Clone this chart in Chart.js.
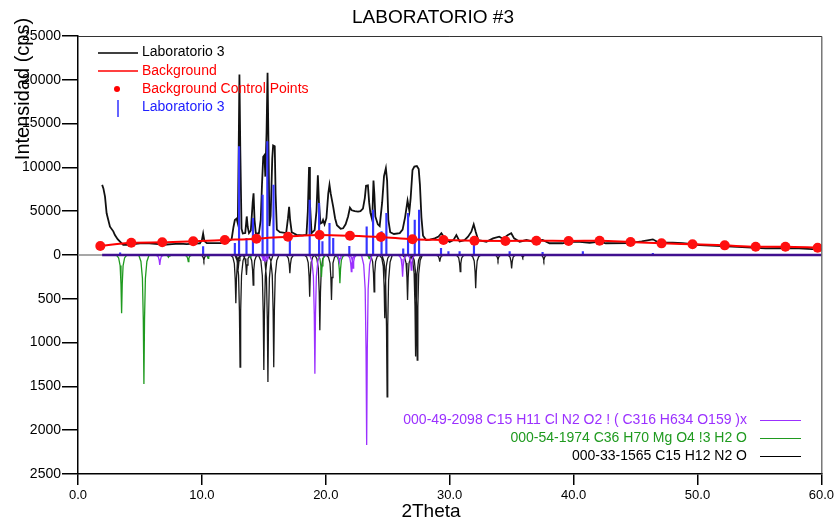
<!DOCTYPE html>
<html>
<head>
<meta charset="utf-8">
<script src="https://cdn.jsdelivr.net/npm/chart.js@4.4.1/dist/chart.umd.min.js"></script>
<style>
  html, body { margin: 0; padding: 0; background: #fff; }
  #wrap { width: 837px; height: 522px; }
</style>
</head>
<body>
<div id="wrap"><canvas id="xrd" width="837" height="522"></canvas></div>
<script>
// Patrón medido (2Theta, cps)
const theta2 = [1.95, 2.05, 2.18, 2.31, 2.58, 2.85, 2.98, 3.2, 3.39, 3.65, 4.0, 4.5, 5.0, 5.5, 6.0, 6.5, 7.15, 7.6, 8.2, 8.77,
  9.3, 9.84, 10.0, 10.1, 10.2, 10.4, 11.0, 11.5, 12.0, 12.4, 12.55, 12.66, 12.8, 12.9, 12.97, 13.03, 13.1, 13.2, 13.3, 13.5,
  13.62, 13.7, 13.8, 13.95, 14.1, 14.17, 14.25, 14.35, 14.6, 14.75, 14.85, 14.95, 15.05, 15.12, 15.22, 15.3, 15.38, 15.45, 15.55, 15.68,
  15.75, 15.88, 15.95, 16.05, 16.3, 16.8, 16.95, 17.04, 17.12, 17.25, 17.64, 18.1, 18.44, 18.55, 18.65, 18.72, 18.85, 19.1, 19.25, 19.36,
  19.45, 19.57, 19.7, 19.78, 19.9, 20.05, 20.2, 20.3, 20.4, 20.6, 20.75, 20.9, 21.2, 21.4, 21.6, 21.8, 21.95, 22.1, 22.34, 22.6,
  22.8, 23.0, 23.15, 23.25, 23.4, 23.5, 23.6, 23.75, 23.85, 23.92, 24.0, 24.2, 24.35, 24.55, 24.7, 24.85, 24.95, 25.05, 25.2, 25.5,
  25.97, 26.2, 26.4, 26.6, 26.75, 26.85, 27.0, 27.15, 27.35, 27.5, 27.6, 27.72, 27.85, 28.1, 28.4, 28.8, 29.1, 29.33, 29.6, 30.0,
  30.3, 30.54, 30.8, 31.2, 31.48, 31.75, 31.94, 32.1, 32.3, 32.96, 33.5, 34.0, 34.3, 34.7, 34.97, 35.2, 35.65, 36.2, 36.7, 37.5,
  38.06, 39.1, 39.7, 40.5, 41.3, 42.1, 42.6, 44.5, 45.5, 46.4, 46.9, 48.0, 48.8, 50.2, 51.5, 52.8, 54.0, 55.5, 57.0, 58.2,
  59.6, 60.0];
const counts = [8000, 7600, 6660, 4760, 3230, 2700, 2280, 1800, 1520, 1150, 1150, 1250, 1340, 1350, 1300, 1250, 1200, 1250, 1300, 1250,
  1300, 1340, 1700, 2450, 1600, 1350, 1350, 1350, 1420, 1800, 3200, 4000, 4150, 3600, 12000, 20600, 12000, 3000, 2450, 2500,
  4400, 3200, 2500, 2800, 6000, 7050, 4000, 2500, 2450, 4000, 8000, 11200, 11400, 8950, 14000, 20800, 12000, 3300, 4500, 11000,
  12500, 12400, 7000, 2900, 2600, 2500, 4200, 5500, 4000, 2600, 2300, 2250, 2300, 5000, 10050, 6000, 2500, 2850, 5000, 9100,
  6000, 3600, 3700, 4000, 3500, 4200, 7000, 8000, 7000, 5500, 4200, 3400, 3000, 3050, 3500, 4400, 5400, 5100, 5000, 4950,
  5000, 5300, 6500, 7900, 7950, 6000, 4800, 4000, 8500, 7000, 4400, 3500, 3300, 6000, 9000, 9900, 8500, 4000, 2600, 2400,
  2500, 2900, 4300, 6200, 5000, 6500, 9700, 10100, 10150, 9800, 8000, 4300, 2200, 1700, 1750, 1900, 2100, 2480, 1900, 1500,
  1700, 2280, 1550, 1700, 2090, 2660, 3500, 2660, 1710, 1520, 1900, 2090, 1850, 2280, 2480, 1900, 1520, 1710, 1520, 1710,
  1340, 1340, 1520, 1500, 1400, 1520, 1340, 1350, 1550, 1790, 1400, 1400, 1340, 1140, 1050, 950, 870, 760, 800, 760,
  650, 640];

// Puntos de control del fondo
const bgTheta = [1.8, 4.3, 6.8, 9.3, 11.85, 14.4, 16.95, 19.5, 21.95, 24.45, 27.0, 29.5, 32.0, 34.5, 37.0, 39.6, 42.1, 44.6, 47.1, 49.6, 52.2, 54.7, 57.1, 59.7];
const bgCounts = [1030, 1400, 1450, 1560, 1710, 1860, 2090, 2280, 2200, 2050, 1790, 1710, 1630, 1600, 1630, 1600, 1630, 1480, 1330, 1220, 1100, 950, 950, 830];

// Lista de picos (barras azules)
const stickTheta = [3.4, 10.1, 12.66, 13.0, 13.6, 14.12, 14.9, 15.28, 15.78, 17.1, 18.7, 19.46, 19.73, 20.3, 20.6, 21.9,
  23.3, 23.82, 24.5, 24.89, 26.25, 26.64, 27.18, 27.53, 29.3, 29.9, 30.8, 31.96, 34.84, 37.5, 40.75, 46.4];
const stickCounts = [250, 950, 1340, 12370, 1900, 4190, 6850, 12940, 7990, 2480, 6280, 5900, 1520, 3620, 1900, 1000,
  3230, 5140, 2660, 4760, 700, 4760, 4000, 5140, 760, 380, 380, 1400, 380, 300, 380, 200];

// Patrones de referencia (escala inferior 0-2500)
const ref1565Theta = [10.16, 12.74, 12.95, 13.08, 13.6, 14.14, 15.0, 15.33, 15.8, 17.1, 18.7, 19.52, 20.46, 23.9, 24.76, 24.95,
  26.6, 27.25, 27.38, 29.2, 30.85, 32.1, 33.9, 35.0, 35.9, 37.6];
const ref1565Int = [60, 552, 130, 1280, 228, 343, 1313, 1450, 1280, 209, 476, 860, 514, 420, 723, 1620,
  514, 1160, 1200, 76, 190, 380, 57, 152, 30, 60];
const ref1974Theta = [3.52, 5.32, 7.3, 8.9, 10.5, 13.9, 19.65, 21.14, 23.5];
const ref1974Int = [666, 1473, 25, 76, 38, 25, 250, 323, 40];
const ref2098Theta = [6.6, 14.95, 15.1, 15.3, 19.12, 21.1, 22.06, 22.2, 23.3, 26.2, 26.9];
const ref2098Int = [114, 60, 70, 50, 1355, 80, 190, 150, 2170, 247, 171];

const xTickValues = [0, 10, 20, 30, 40, 50, 60];
const yTickValues = [-25000, -20000, -15000, -10000, -5000, 0, 5000, 10000, 15000, 20000, 25000];

const REF_SCALE = 10; // la mitad inferior va 10x ampliada
const PEAK_SHAPE = [[-0.42, 0], [-0.24, 0.05], [-0.12, 0.18], [-0.05, 0.5], [0, 1],
  [0.05, 0.5], [0.12, 0.18], [0.24, 0.05], [0.42, 0]];

const zip = (xs, ys) => xs.map((x, i) => ({ x: x, y: ys[i] }));
function refProfile(xs, hs) {
  const pts = [];
  xs.forEach((x, i) => {
    const h = -hs[i] * REF_SCALE;
    PEAK_SHAPE.forEach(([dx, f]) => pts.push({ x: x + dx, y: h * f }));
  });
  return pts;
}

const FONT = "'Liberation Sans', Arial, sans-serif";
Chart.defaults.font.family = FONT;

// Textos, leyendas y marco
const decor = {
  id: 'decor',
  beforeDatasetsDraw(chart) {
    const { ctx, chartArea: a, scales } = chart;
    const y0 = scales.y.getPixelForValue(0);
    ctx.save();
    ctx.strokeStyle = '#8a8a8a';
    ctx.lineWidth = 1.5;
    ctx.beginPath();
    ctx.moveTo(a.left, y0);
    ctx.lineTo(a.right, y0);
    ctx.stroke();
    ctx.restore();
  },
  afterDraw(chart) {
    const { ctx, chartArea: a } = chart;
    ctx.save();
    // marco superior y derecho
    ctx.strokeStyle = '#333';
    ctx.lineWidth = 1;
    ctx.beginPath();
    ctx.moveTo(a.left, a.top + 0.5);
    ctx.lineTo(a.right + 0.5, a.top + 0.5);
    ctx.lineTo(a.right + 0.5, a.bottom);
    ctx.stroke();

    // titulo
    ctx.fillStyle = '#000';
    ctx.textAlign = 'center';
    ctx.textBaseline = 'middle';
    ctx.font = '19px ' + FONT;
    ctx.fillText('LABORATORIO #3', 433, 18);
    ctx.fillText('2Theta', 431, 512);
    ctx.save();
    ctx.translate(23, 89);
    ctx.rotate(-Math.PI / 2);
    ctx.font = '20px ' + FONT;
    ctx.fillText('Intensidad (cps)', 0, 0);
    ctx.restore();

    // leyenda superior
    ctx.font = '14px ' + FONT;
    ctx.textAlign = 'left';
    const rows = [
      { t: 'Laboratorio 3', c: '#000', y: 52 },
      { t: 'Background', c: '#ff0000', y: 71 },
      { t: 'Background Control Points', c: '#ff0000', y: 89 },
      { t: 'Laboratorio 3', c: '#2020ff', y: 107 }
    ];
    rows.forEach(r => {
      ctx.fillStyle = r.c;
      ctx.fillText(r.t, 142, r.y);
    });
    ctx.lineWidth = 1.5;
    ctx.strokeStyle = '#000';
    ctx.beginPath(); ctx.moveTo(98, 53); ctx.lineTo(138, 53); ctx.stroke();
    ctx.strokeStyle = '#ff0000';
    ctx.beginPath(); ctx.moveTo(98, 71); ctx.lineTo(138, 71); ctx.stroke();
    ctx.fillStyle = '#ff0000';
    ctx.beginPath(); ctx.arc(117, 89, 3, 0, Math.PI * 2); ctx.fill();
    ctx.strokeStyle = '#3030ff';
    ctx.beginPath(); ctx.moveTo(118, 100); ctx.lineTo(118, 117); ctx.stroke();

    // leyenda inferior
    ctx.textAlign = 'right';
    const refRows = [
      { t: '000-49-2098 C15 H11 Cl N2 O2 ! ( C316 H634 O159 )x', c: '#9b30ff', y: 420 },
      { t: '000-54-1974 C36 H70 Mg O4 !3 H2 O', c: '#1f9a1f', y: 438 },
      { t: '000-33-1565 C15 H12 N2 O', c: '#000', y: 456 }
    ];
    refRows.forEach(r => {
      ctx.fillStyle = r.c;
      ctx.fillText(r.t, 747, r.y);
      ctx.strokeStyle = r.c;
      ctx.lineWidth = 1.2;
      ctx.beginPath(); ctx.moveTo(760, r.y + 0.5); ctx.lineTo(801, r.y + 0.5); ctx.stroke();
    });
    ctx.restore();
  }
};

const ctx = document.getElementById('xrd').getContext('2d');
new Chart(ctx, {
  type: 'line',
  data: {
    datasets: [
      {
        label: 'Background Control Points',
        data: zip(bgTheta, bgCounts),
        showLine: false,
        pointRadius: 5,
        pointBackgroundColor: '#ff1010',
        pointBorderWidth: 0
      },
      {
        label: 'Background',
        data: zip(bgTheta, bgCounts),
        borderColor: '#ff0000',
        borderWidth: 2,
        pointRadius: 0,
        cubicInterpolationMode: 'monotone'
      },
      {
        label: 'Baseline',
        data: [{ x: theta2[0], y: 0 }, { x: theta2[theta2.length - 1], y: 0 }],
        borderColor: '#40108f',
        borderWidth: 2.5,
        pointRadius: 0
      },
      {
        type: 'bar',
        label: 'Laboratorio 3 picos',
        data: zip(stickTheta, stickCounts),
        backgroundColor: '#3535ff',
        barThickness: 1.5,
        grouped: false
      },
      {
        label: '000-49-2098',
        data: refProfile(ref2098Theta, ref2098Int),
        borderColor: '#9b30ff',
        borderWidth: 1.3,
        pointRadius: 0
      },
      {
        label: '000-54-1974',
        data: refProfile(ref1974Theta, ref1974Int),
        borderColor: '#1f9a1f',
        borderWidth: 1.3,
        pointRadius: 0
      },
      {
        label: '000-33-1565',
        data: refProfile(ref1565Theta, ref1565Int),
        borderColor: '#1a1a1a',
        borderWidth: 1.3,
        pointRadius: 0
      },
      {
        label: 'Laboratorio 3',
        data: zip(theta2, counts),
        borderColor: '#111',
        borderWidth: 1.8,
        pointRadius: 0
      }
    ]
  },
  options: {
    responsive: false,
    animation: false,
    devicePixelRatio: 1,
    layout: { padding: { top: 36, right: 15, left: 0, bottom: 0 } },
    plugins: { legend: { display: false }, tooltip: { enabled: false } },
    scales: {
      x: {
        type: 'linear',
        min: 0,
        max: 60,
        offset: false,
        afterBuildTicks: s => { s.ticks = xTickValues.map(v => ({ value: v })); },
        afterFit: s => { s.height = 48; },
        ticks: { callback: v => Number(v).toFixed(1), color: '#000', font: { size: 13 }, padding: 3, maxRotation: 0, autoSkip: false },
        grid: { drawOnChartArea: false, tickLength: 11, color: '#000', lineWidth: 1.5, offset: false },
        border: { color: '#000', width: 1.5 }
      },
      y: {
        type: 'linear',
        min: -25000,
        max: 25000,
        afterBuildTicks: s => { s.ticks = yTickValues.map(v => ({ value: v })); },
        afterFit: s => { s.width = 78; },
        ticks: { callback: v => String(v >= 0 ? v : -v / REF_SCALE), color: '#000', font: { size: 14 }, padding: 1, autoSkip: false },
        grid: { drawOnChartArea: false, tickLength: 16, color: '#000', lineWidth: 1.5 },
        border: { color: '#000', width: 1.5 }
      }
    }
  },
  plugins: [decor]
});
</script>
</body>
</html>
